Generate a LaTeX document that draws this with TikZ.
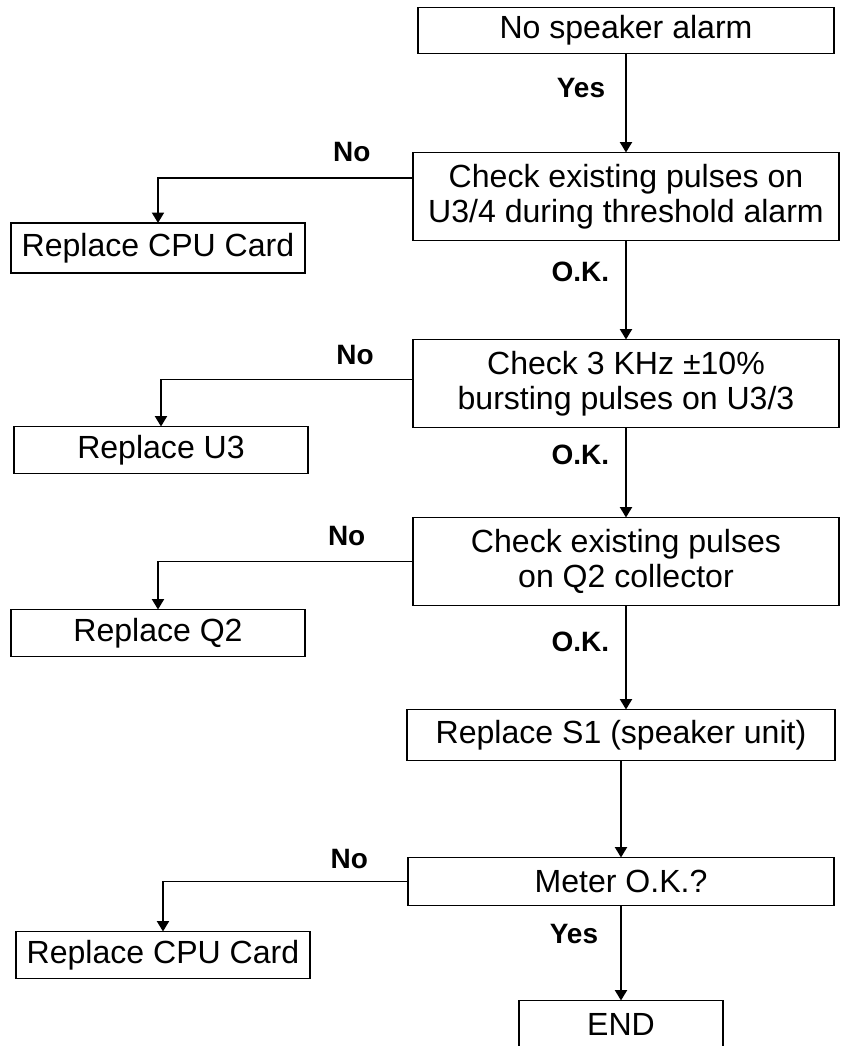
\documentclass[tikz,border=0pt]{standalone}
\usepackage{fontspec}
\setmainfont{Liberation Sans}
\usepackage{tikz}
\usetikzlibrary{arrows.meta,positioning}

\begin{document}
\begin{tikzpicture}[
    font=\fontsize{22.8}{25}\selectfont,
    % Styles
    block/.style={
        rectangle,
        draw=black,
        line width=1.3pt,
        align=center,
        inner sep=0pt,
        outer sep=0pt
    },
    check/.style={
        block,
        minimum width=10.65cm,
        minimum height=2.2cm
    },
    single/.style={
        block,
        minimum width=10.65cm,
        minimum height=1.2cm
    },
    fix/.style={
        block,
        minimum width=7.35cm,
        minimum height=1.175cm
    },
    final/.style={
        block,
        minimum width=5.1cm,
        minimum height=1.2cm
    },
    lbl/.style={
        font=\fontsize{19.9}{22}\selectfont\bfseries,
        inner sep=0pt
    },
    % Line Styles
    flow/.style={draw, line width=1.3pt, -{Triangle[length=0.26cm,width=0.3cm]}}
]

\useasboundingbox (-15.65,0.7625) rectangle (5.375,-25.3875);

% --- Nodes ---

% Main column
\node[single, minimum width=10.4cm, minimum height=1.15cm] (start) {No speaker alarm};
\node[check, below=2.475cm of start] (chk1) {Check existing pulses on\\U3/4 during threshold alarm};
\node[check, below=2.475cm of chk1] (chk2) {Check 3 KHz ±10\%\\bursting pulses on U3/3};
\node[check, below=2.25cm of chk2] (chk3) {Check existing pulses\\on Q2 collector};
\node[single, minimum width=10.7cm, minimum height=1.275cm, below=2.6cm of chk3, xshift=-0.125cm] (s1) {Replace S1 (speaker unit)};
\node[single, below=2.425cm of s1] (meter) {Meter O.K.?};
\node[final, below=2.375cm of meter] (end) {END};

% Left column: replacements
\node[fix, minimum height=1.25cm, below left=0.6625cm and 2.7cm of chk1.west] (cpu1) {Replace CPU Card};
\node[fix, below left=1.075cm and 2.625cm of chk2.west] (u3) {Replace U3};
\node[fix, below left=1.2cm and 2.7cm of chk3.west] (q2) {Replace Q2};
\node[fix, below left=1.25cm and 2.45cm of meter.west] (cpu2) {Replace CPU Card};

% --- Connectors ---

% Yes / O.K. path
\draw[flow] (start) -- node[lbl, left=0.5cm, pos=0.35] {Yes} (chk1);
\draw[flow] (chk1) -- node[lbl, left=0.4cm, pos=0.32] {O.K.} (chk2);
\draw[flow] (chk2) -- node[lbl, left=0.4cm, pos=0.3] {O.K.} (chk3);
\draw[flow] (chk3.south) -- node[lbl, left=0.4cm, pos=0.35] {O.K.} (chk3.south |- s1.north);
\draw[flow] (s1) -- (meter);
\draw[flow] (meter) -- node[lbl, left=0.55cm, pos=0.3] {Yes} (end);

% No branches
\draw[flow] ([yshift=0.4625cm]chk1.west) -| node[lbl, pos=0.12, above=0.39cm] {No} (cpu1);
\draw[flow] ([yshift=0.1cm]chk2.west) -| node[lbl, pos=0.115, above=0.34cm] {No} (u3);
\draw[flow] (chk3.west) -| node[lbl, pos=0.13, above=0.36cm] {No} (q2);
\draw[flow] (meter.west) -| node[lbl, pos=0.12, above=0.29cm] {No} (cpu2);

\end{tikzpicture}
\end{document}
